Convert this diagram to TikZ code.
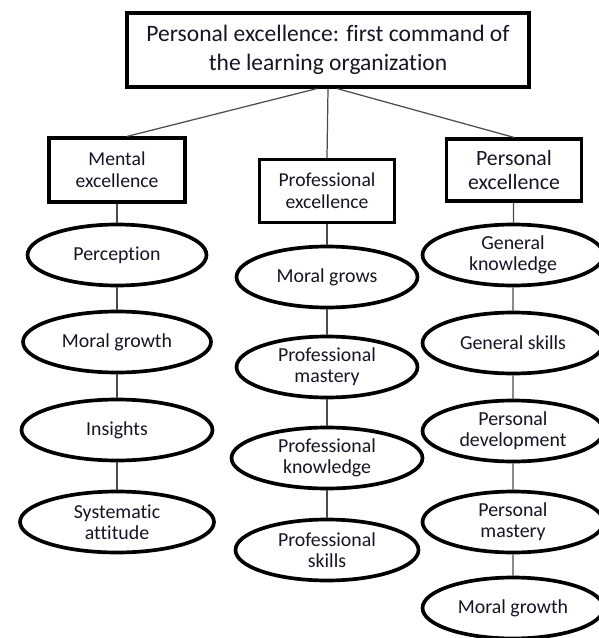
\documentclass[tikz,border=0pt]{standalone}
\usepackage{fontspec}
\setmainfont{Carlito}[Ligatures=NoCommon]
\usetikzlibrary{shapes.geometric}
\definecolor{inkcol}{RGB}{20,22,35}
\definecolor{linkcol}{RGB}{75,75,75}

\begin{document}
\begin{tikzpicture}[x=0.02cm,y=-0.02cm,
  headbox/.style={draw,line width=1.8pt,inner sep=0pt,align=center,text=inkcol},
  item/.style={draw,ellipse,line width=2.1pt,inner sep=0pt,minimum width=3.62cm,
    minimum height=1.22cm,align=center,text=inkcol,font=\fontsize{11.3}{11.8}\selectfont},
  link/.style={draw=linkcol,line width=0.7pt}]
  \useasboundingbox (0,0) rectangle (598,638);
  \node[headbox,minimum width=8.04cm,minimum height=1.48cm,font=\fontsize{13.4}{16.2}\selectfont] (top) at (328,50) {Personal excellence: first command of\\the learning organization};
  \node[headbox,minimum width=2.72cm,minimum height=1.28cm,font=\fontsize{11.2}{12.6}\selectfont] (ment) at (117,170) {Mental\\excellence};
  \node[headbox,minimum width=2.7cm,minimum height=1.26cm,font=\fontsize{11.2}{12.6}\selectfont] (prof) at (327,191) {Professional\\excellence};
  \node[headbox,minimum width=2.7cm,minimum height=1.24cm,font=\fontsize{12.4}{14}\selectfont] (pers) at (514,170) {Personal\\excellence};
  % mental column
  \node[item,minimum width=3.58cm] (perc) at (117,255) {Perception};
  \node[item,minimum width=3.76cm] (mgl) at (117,342) {Moral growth};
  \node[item,minimum width=3.82cm] (ins) at (117,430) {Insights};
  \node[item,minimum width=3.88cm] (sys) at (117,522) {Systematic\\attitude};
  % professional column
  \node[item] (mgr) at (327,277) {Moral grows};
  \node[item] (pmas) at (327,367) {Professional\\mastery};
  \node[item,minimum width=3.82cm] (pkn) at (327,458) {Professional\\knowledge};
  \node[item,minimum width=3.66cm] (psk) at (327,550) {Professional\\skills};
  % personal column
  \node[item] (gkn) at (513,255) {General\\knowledge};
  \node[item] (gsk) at (513,343) {General skills};
  \node[item] (pdev) at (513,431) {Personal\\development};
  \node[item] (pmr) at (513,522) {Personal\\mastery};
  \node[item] (mgp) at (513,608) {Moral growth};
  \draw[link] ([xshift=-0.22cm]top.south) -- ([xshift=0.2cm]ment.north);
  \draw[link] (top.south) -- (prof.north);
  \draw[link] ([xshift=0.18cm]top.south) -- (pers.north);
  \draw[link] (ment) -- (perc) -- (mgl) -- (ins) -- (sys);
  \draw[link] (prof) -- (mgr) -- (pmas) -- (pkn) -- (psk);
  \draw[link] (pers) -- (gkn) -- (gsk) -- (pdev) -- (pmr) -- (mgp);
\end{tikzpicture}
\end{document}
